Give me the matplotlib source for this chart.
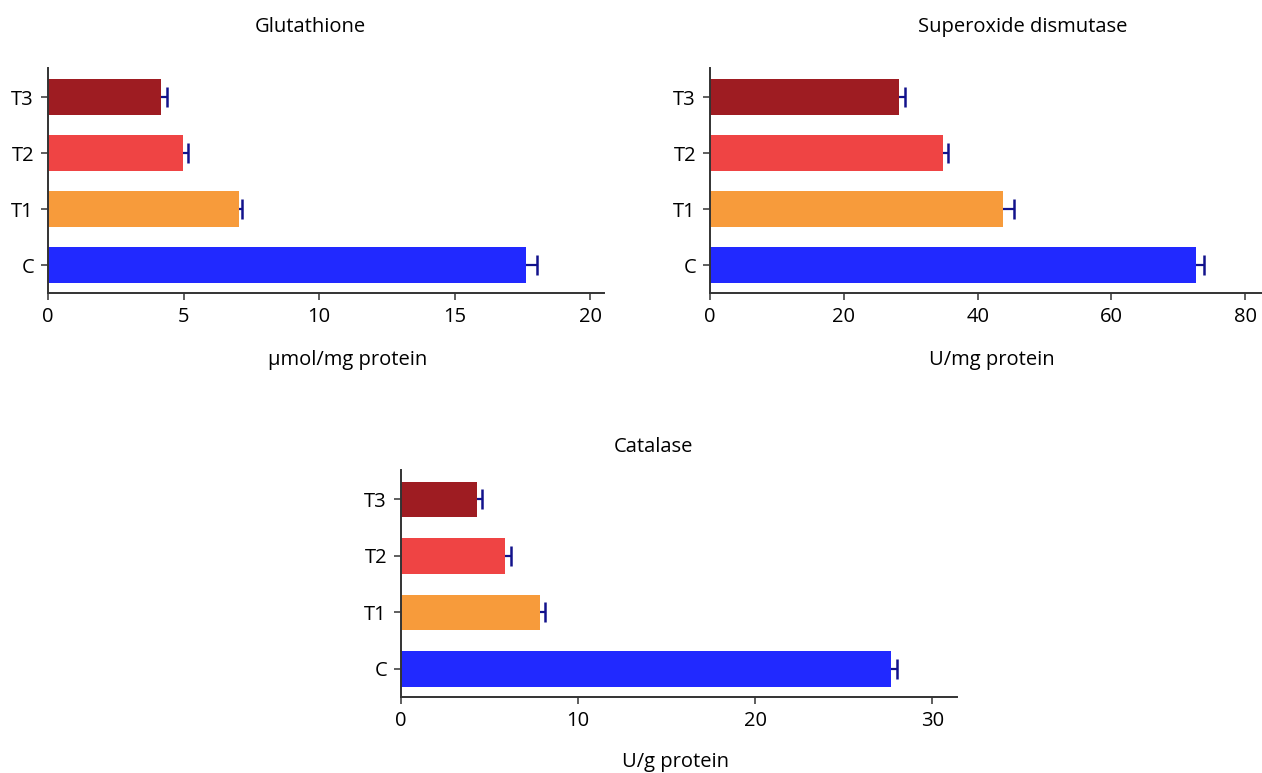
import numpy as np
import matplotlib
matplotlib.use('Agg')
import matplotlib.pyplot as plt

# Данные
groups = ['C', 'T1', 'T2', 'T3']
colors = ['#2129FF', '#F79B3B', '#EF4444', '#9E1C22']

gsh_vals = [17.64, 7.04, 4.98, 4.16]
gsh_err = [0.40, 0.12, 0.20, 0.22]

sod_vals = [72.6, 43.8, 34.8, 28.3]
sod_err = [1.2, 1.6, 0.7, 0.9]

cat_vals = [27.68, 7.85, 5.86, 4.27]
cat_err = [0.33, 0.29, 0.33, 0.29]

W, H = 1262, 773
FS = 14.5
plt.rcParams['font.family'] = ['Open Sans', 'DejaVu Sans']
plt.rcParams['font.size'] = FS


def draw_panel(rect, vals, errs, xmax, xticks):
    ax = fig.add_axes(rect)
    y = np.arange(len(groups))
    ax.barh(y, vals, height=0.63, color=colors, zorder=2)
    # Ошибка только в положительную сторону, нижний «ус» спрятан под столбцом
    ax.errorbar(vals, y, xerr=[errs, errs], fmt='none',
                ecolor='#12128C', elinewidth=1.6, capsize=7.5, capthick=1.8, zorder=1)
    ax.set_yticks(y)
    ax.set_yticklabels(groups)
    ax.set_ylim(-0.5, 3.52)
    ax.set_xlim(0, xmax)
    ax.set_xticks(xticks)
    for s in ['top', 'right']:
        ax.spines[s].set_visible(False)
    for s in ['left', 'bottom']:
        ax.spines[s].set_color('#333333')
        ax.spines[s].set_linewidth(1.4)
    ax.tick_params(axis='both', length=5, width=1.1, color='#333333', labelsize=FS)
    ax.tick_params(axis='x', pad=5)
    ax.tick_params(axis='y', pad=5)
    return ax


fig = plt.figure(figsize=(W / 100, H / 100), dpi=100)


def px(l, r, t, b):
    return [l / W, 1 - b / H, (r - l) / W, (b - t) / H]


draw_panel(px(48, 604, 68, 293), gsh_vals, gsh_err, 20.5, [0, 5, 10, 15, 20])
draw_panel(px(710, 1262, 68, 293), sod_vals, sod_err, 82.5, [0, 20, 40, 60, 80])
draw_panel(px(401, 957, 470, 697), cat_vals, cat_err, 31.4, [0, 10, 20, 30])

# Заголовки и подписи осей
fig.text(310 / W, 1 - 27 / H, 'Glutathione', ha='center', va='center', fontsize=FS)
fig.text(1023 / W, 1 - 27 / H, 'Superoxide dismutase', ha='center', va='center', fontsize=FS)
fig.text(653 / W, 1 - 447 / H, 'Catalase', ha='center', va='center', fontsize=FS)

fig.text(348 / W, 1 - 360 / H, 'µmol/mg protein', ha='center', va='center', fontsize=FS)
fig.text(992 / W, 1 - 360 / H, 'U/mg protein', ha='center', va='center', fontsize=FS)
fig.text(676 / W, 1 - 762 / H, 'U/g protein', ha='center', va='center', fontsize=FS)

fig.savefig('out.png', dpi=100)
plt.close(fig)
